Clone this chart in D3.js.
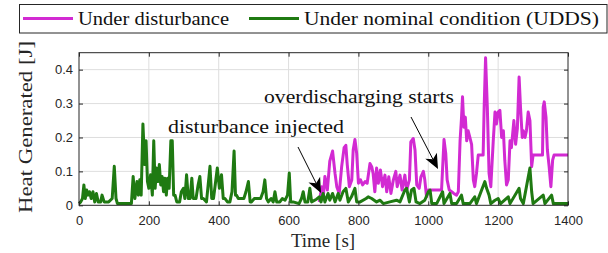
<!DOCTYPE html>
<html><head><meta charset="utf-8">
<script src="https://cdn.jsdelivr.net/npm/d3@7"></script>
<style>body{margin:0;background:#fff;} svg{display:block;}</style>
</head><body>
<svg id="chart" width="608" height="253"></svg>
<script>
// ---- data ----
const xTicks = [0, 200, 400, 600, 800, 1000, 1200, 1400];
const yTicks = [0, 0.1, 0.2, 0.3, 0.4];
const seriesNames = ["Under disturbance", "Under nominal condition (UDDS)"];

const nominalTime = [0,5,10,14,18,22,26,30,35,40,45,50,55,62,66,72,85,95,101,106,110,150,155,160,166,170,174,178,183,188,192,196,200,205,210,214,218,222,226,230,234,238,242,246,250,254,258,263,267,271,275,280,288,293,299,303,308,313,318,323,327,335,341,346,351,356,365,375,380,385,390,396,402,408,413,418,425,432,438,444,448,451,456,461,472,478,485,490,494,502,509,520,527,532,537,542,550,556,561,566,575,582,590,597,602,606,613,630,637,642,647,655,661,666,680,688,693,699,704,713,718,726,733,742,747,756,764,771,780,790,795,805,822,828,838,852,862,871,890,909,919,933,938,946,952,959,965,976,990,1000,1005,1010,1024,1041,1045,1062,1067,1081,1095,1100,1119,1133,1138,1162,1167,1174,1179,1191,1200,1207,1229,1234,1260,1264,1272,1291,1296,1300,1329,1334,1353,1358,1400];
const nominalHeat = [.005,.01,.02,.06,.02,.045,.03,.04,.02,.04,.01,.035,.01,.01,.03,.01,.01,.02,.115,.02,.005,.005,.085,.02,.07,.03,.075,.03,.24,.12,.19,.07,.05,.09,.03,.19,.05,.11,.07,.12,.06,.085,.04,.08,.03,.08,.05,.19,.19,.03,.03,.01,.01,.04,.05,.02,.09,.02,.02,.08,.02,.02,.06,.085,.02,.02,.01,.115,.02,.02,.06,.11,.05,.09,.02,.02,.01,.01,.04,.16,.03,.03,.02,.02,.02,.04,.07,.01,.01,.02,.02,.02,.04,.075,.02,.01,.02,.01,.04,.01,.01,.02,.015,.03,.095,.01,.01,.005,.02,.04,.01,.01,.05,.01,.018,.025,.01,.035,.01,.035,.015,.035,.01,.035,.015,.04,.05,.01,.025,.05,.01,.01,.02,.025,.02,.01,.015,.005,.01,.015,.01,.045,.05,.01,.045,.05,.01,.005,.015,.04,.045,.005,.005,.04,.005,.035,.005,.005,.03,.005,.005,.025,.005,.07,.05,.03,.005,.015,.02,.005,.025,.005,.05,.02,.005,.11,.04,.005,.03,.005,.03,.005,.005];

const disturbedTime = [688,695,699,704,711,718,726,733,738,745,752,759,764,768,774,781,785,790,795,800,806,812,819,825,833,838,842,847,852,857,863,869,876,881,887,893,900,907,911,919,925,933,938,946,950,957,962,967,974,979,986,990,995,1000,1038,1045,1050,1054,1060,1067,1073,1081,1086,1091,1095,1098,1102,1106,1110,1114,1119,1124,1129,1133,1138,1143,1157,1160,1164,1169,1174,1179,1186,1191,1195,1200,1205,1210,1215,1219,1224,1229,1234,1238,1245,1250,1255,1260,1264,1269,1272,1277,1281,1286,1291,1296,1300,1327,1329,1332,1337,1341,1346,1351,1356,1360,1400];
const disturbedHeat = [.01,.055,.02,.085,.045,.13,.16,.094,.055,.035,.114,.17,.177,.12,.055,.075,.163,.194,.153,.065,.075,.06,.07,.065,.123,.114,.094,.04,.11,.065,.104,.055,.089,.04,.084,.035,.075,.1,.055,.089,.045,.089,.045,.075,.187,.197,.163,.06,.05,.084,.1,.075,.025,.045,.045,.194,.153,.075,.045,.04,.035,.03,.04,.19,.256,.32,.23,.26,.19,.22,.2,.18,.075,.055,.094,.148,.148,.29,.435,.29,.094,.055,.19,.275,.24,.275,.28,.2,.22,.133,.06,.075,.19,.17,.25,.18,.226,.378,.29,.2,.22,.2,.22,.275,.25,.114,.148,.148,.29,.305,.26,.163,.114,.055,.133,.148,.148];

const annotations = [
  {text: "overdischarging starts"},
  {text: "disturbance injected"}
];

// ---- chart ----
const svg = d3.select("#chart");
const axisCol = "#262626";
const magenta = "#d22ad2";
const green = "#1f7a12";
const L = 79, R = 568, T = 52.7, B = 205.3;
const x = d3.scaleLinear().domain([0, 1400]).range([L, R]);
const y = d3.scaleLinear().domain([0, 0.45]).range([B, T]);

// grid
const g = svg.append("g");
g.selectAll("line.vg").data(xTicks.slice(1, -1)).join("line")
  .attr("x1", d => x(d)).attr("x2", d => x(d)).attr("y1", T).attr("y2", B)
  .attr("stroke", "#dedede").attr("stroke-width", 1);
g.selectAll("line.hg").data(yTicks.slice(1)).join("line")
  .attr("x1", L).attr("x2", R).attr("y1", d => y(d)).attr("y2", d => y(d))
  .attr("stroke", "#dedede").attr("stroke-width", 1);

// lines
const line = (tArr) => d3.line().x((d, i) => x(tArr[i])).y(d => y(d));
svg.append("path").datum(disturbedHeat)
  .attr("d", line(disturbedTime)).attr("fill", "none")
  .attr("stroke", magenta).attr("stroke-width", 3).attr("stroke-linejoin", "round");
svg.append("path").datum(nominalHeat)
  .attr("d", line(nominalTime)).attr("fill", "none")
  .attr("stroke", green).attr("stroke-width", 3).attr("stroke-linejoin", "round");

// axes
const xAxis = d3.axisBottom(x).tickValues(xTicks).tickSize(-4).tickPadding(10).tickFormat(d => d);
const xAx = svg.append("g").attr("transform", `translate(0,${B})`).call(xAxis);
const yAxis = d3.axisLeft(y).tickValues(yTicks).tickSize(-4).tickPadding(6).tickFormat(d => d === 0 ? "0" : d3.format(".1f")(d));
const yAx = svg.append("g").attr("transform", `translate(${L},0)`).call(yAxis);
const xTop = svg.append("g").attr("transform", `translate(0,${T})`).call(d3.axisTop(x).tickValues(xTicks).tickSize(-4).tickFormat(""));
const yRight = svg.append("g").attr("transform", `translate(${R},0)`).call(d3.axisRight(y).tickValues(yTicks).tickSize(-4).tickFormat(""));
[xAx, yAx, xTop, yRight].forEach(a => {
  a.select(".domain").remove();
  a.selectAll("line").attr("stroke", axisCol);
  a.selectAll("text").attr("fill", axisCol).style("font-family", "'Liberation Sans', Arial, sans-serif").style("font-size", "13px");
});
svg.append("rect").attr("x", L).attr("y", T).attr("width", R - L).attr("height", B - T)
  .attr("fill", "none").attr("stroke", axisCol).attr("stroke-width", 1);

// axis labels
const serif = "'Liberation Serif', 'DejaVu Serif', 'Times New Roman', serif";
svg.append("text").attr("x", (L + R) / 2 - 0.5).attr("y", 247).attr("text-anchor", "middle")
  .style("font-family", serif).style("font-size", "19px").attr("fill", axisCol).text("Time [s]");
svg.append("text").attr("transform", `translate(32,${(T + B) / 2 - 2}) rotate(-90)`).attr("text-anchor", "middle")
  .style("font-family", serif).style("font-size", "19px").attr("fill", axisCol)
  .attr("textLength", 172).attr("lengthAdjust", "spacingAndGlyphs").text("Heat Generated [J]");

// annotations
function arrow(x1, y1, x2, y2) {
  const ang = Math.atan2(y2 - y1, x2 - x1);
  const hl = 15, hw = 6.5, back = 4;
  const ux = Math.cos(ang), uy = Math.sin(ang), px = -uy, py = ux;
  const bx = x2 - ux * hl, by = y2 - uy * hl;
  svg.append("line").attr("x1", x1).attr("y1", y1).attr("x2", bx + ux * back).attr("y2", by + uy * back)
    .attr("stroke", "#000").attr("stroke-width", 1);
  const pts = [[x2, y2], [bx + px * hw, by + py * hw], [bx + ux * back, by + uy * back], [bx - px * hw, by - py * hw]];
  svg.append("path").attr("d", "M" + pts.map(p => p.join(",")).join("L") + "Z").attr("fill", "#000");
}
svg.append("text").attr("x", 264).attr("y", 103).style("font-family", serif).style("font-size", "19px")
  .attr("fill", "#111").attr("textLength", 190).attr("lengthAdjust", "spacingAndGlyphs").text(annotations[0].text);
svg.append("text").attr("x", 168).attr("y", 133).style("font-family", serif).style("font-size", "19px")
  .attr("fill", "#111").attr("textLength", 176).attr("lengthAdjust", "spacingAndGlyphs").text(annotations[1].text);
arrow(298, 147, 321, 193);
arrow(411, 117, 438, 169);

// legend
const lg = svg.append("g");
lg.append("rect").attr("x", 19.5).attr("y", 4.5).attr("width", 587.5).attr("height", 28.5)
  .attr("fill", "#fff").attr("stroke", axisCol).attr("stroke-width", 1);
const legendItems = [
  {name: seriesNames[0], color: magenta, x1: 23, x2: 73, tx: 78, tl: 151},
  {name: seriesNames[1], color: green, x1: 249, x2: 299, tx: 304, tl: 295}
];
legendItems.forEach(it => {
  lg.append("line").attr("x1", it.x1).attr("x2", it.x2).attr("y1", 18.5).attr("y2", 18.5)
    .attr("stroke", it.color).attr("stroke-width", 3);
  lg.append("text").attr("x", it.tx).attr("y", 25).style("font-family", serif).style("font-size", "19px")
    .attr("fill", "#111").attr("textLength", it.tl).attr("lengthAdjust", "spacingAndGlyphs").text(it.name);
});
</script>
</body></html>
